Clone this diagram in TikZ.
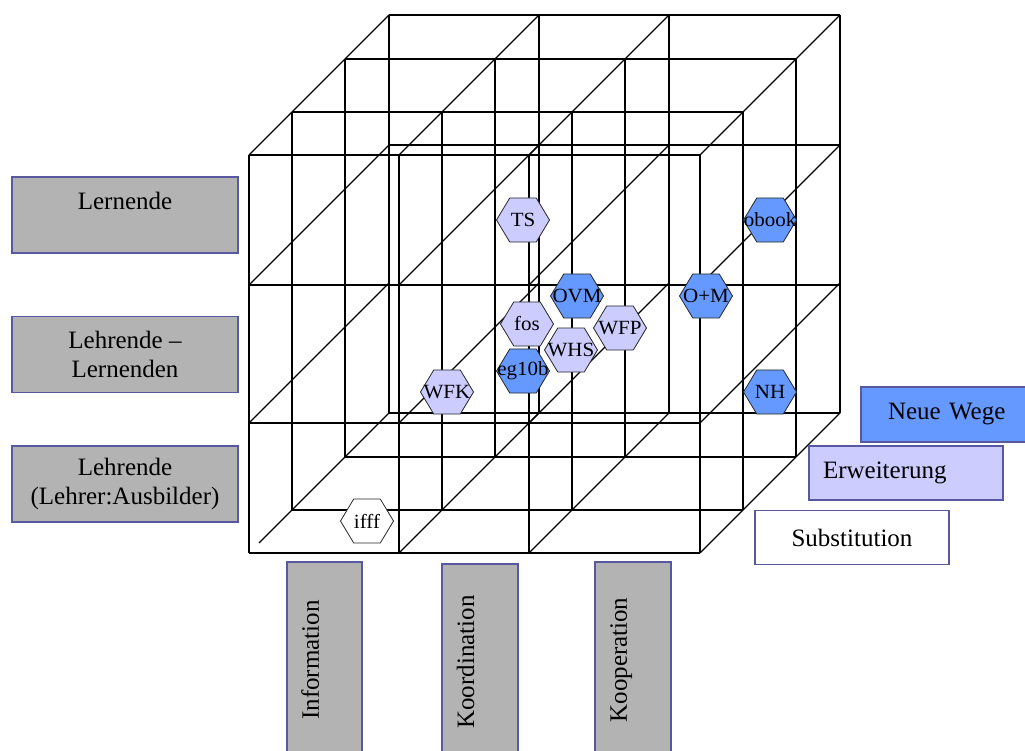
\documentclass[tikz,border=0pt]{standalone}
\usepackage{fontspec}
\setmainfont{Liberation Serif}
\usepackage{tikz}
\usetikzlibrary{shapes.geometric}

\definecolor{grau}{RGB}{179,179,179}
\definecolor{rand}{RGB}{88,88,160}
\definecolor{blau}{RGB}{102,153,255}
\definecolor{lila}{RGB}{204,204,255}

\newcommand{\hexlabel}[1]{\makebox[0pt]{#1}}

\begin{document}
\begin{tikzpicture}[x=1pt,y=-1pt,
        gitter/.style={line width=1.2pt},
        dim/.style={draw=rand, fill=grau, line width=1.2pt, align=center, inner sep=0pt,
            minimum width=226pt, minimum height=76pt, font=\fontsize{25}{29}\selectfont},
        ebene/.style={draw=rand, line width=1.2pt, inner sep=0pt, minimum width=194pt,
            minimum height=54pt, font=\fontsize{25}{29}\selectfont},
        hexa/.style={regular polygon, regular polygon sides=6, minimum size=53pt, inner sep=0pt,
            draw=black!85, line width=0.8pt, fill=#1, yscale=0.96, transform shape,
            font=\fontsize{21}{24}\selectfont}]
            \useasboundingbox (0,0) rectangle (1025,751);

            %layers of the cube
            \foreach \d in {0,43,96,140} {
                \foreach \x in {249,399,529,700}
                    \draw[gitter] (\x+\d,155-\d) -- (\x+\d,553-\d);
                \draw[gitter] (249+\d,155-\d) -- (700+\d,155-\d);
                \draw[gitter] (249+\d,553-\d) -- (700+\d,553-\d);
            }
            %rows of front and back face
            \draw[gitter] (249,285) -- (840,285);
            \draw[gitter] (249,423) -- (700,423);
            \draw[gitter] (389,145) -- (840,145);
            %depth lines
            \foreach \x in {249,399,529,700}
                \foreach \y in {155,285,423}
                    \draw[gitter] (\x,\y) -- ++(140,-140);
            \foreach \x in {399,529,700}
                \draw[gitter] (\x,553) -- ++(140,-140);
            \draw[gitter] (259,543) -- (389,413);

            %projects
            \node[hexa=lila] (ts) at (523,220) {\hexlabel{TS}};
            \node[hexa=blau] (ovm) at (577,296) {\hexlabel{OVM}};
            \node[hexa=lila] (fos) at (527,324) {\hexlabel{fos}};
            \node[hexa=lila] (wfp) at (620,328) {\hexlabel{WFP}};
            \node[hexa=lila] (whs) at (571,350) {\hexlabel{WHS}};
            \node[hexa=blau] (egb) at (523,371) {\hexlabel{eg10b}};
            \node[hexa=lila] (wfk) at (447,392) {\hexlabel{WFK}};
            \node[hexa=blau] (obook) at (770,220) {\hexlabel{obook}};
            \node[hexa=blau] (om) at (706,296) {\hexlabel{O+M}};
            \node[hexa=blau] (nh) at (770,392) {\hexlabel{NH}};
            \node[hexa=white] (ifff) at (367,521) {\hexlabel{ifff}};

            %axes
            \node[dim] (lernende) at (125,215) {Lernende\\~};
            \node[dim] (lehrlern) at (125,354.5) {Lehrende --\\Lernenden};
            \node[dim] (lehrende) at (125,484) {Lehrende\\(Lehrer:Ausbilder)};
            \node[dim, rotate=90, minimum width=196pt, minimum height=75pt] (info) at (324.5,660) {Information\\~};
            \node[dim, rotate=90, minimum width=196pt, minimum height=76pt] (koord) at (480,662) {Koordination\\~};
            \node[dim, rotate=90, minimum width=196pt, minimum height=76pt] (koop) at (633,660) {Kooperation\\~};
            \node[ebene, fill=blau, text width=140pt, inner xsep=27pt, align=left,
                minimum height=55pt] (neu) at (958,414.5) {Neue Wege};
            \node[ebene, fill=lila, text width=166pt, inner xsep=14pt, align=left] (erw) at (906,473) {Erweiterung};
            \node[ebene, fill=white] (subst) at (852,537.5) {Substitution};
\end{tikzpicture}
\end{document}
